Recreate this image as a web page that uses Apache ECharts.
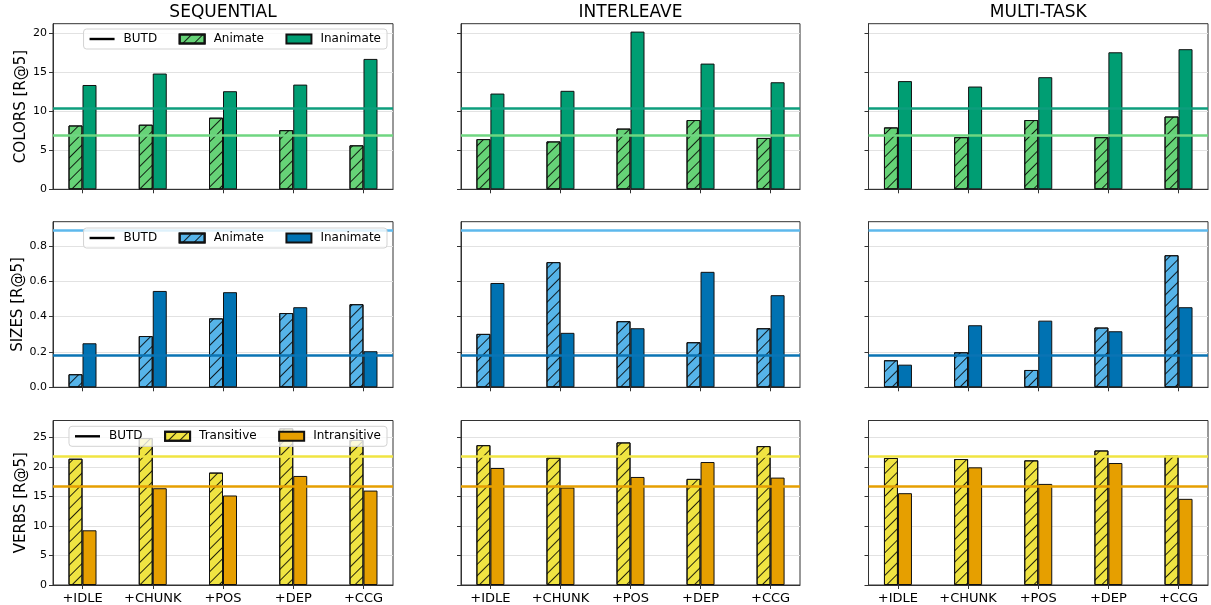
<!DOCTYPE html>
<html>
<head>
<meta charset="utf-8">
<script src="https://cdn.jsdelivr.net/npm/echarts@6/dist/echarts.min.js"></script>
<style>html,body{margin:0;padding:0;background:#fff;}#chart{width:1211px;height:605px;}</style>
</head>
<body>
<div id="chart"></div>
<script>
// ---------- data ----------
const categories = ['+IDLE', '+CHUNK', '+POS', '+DEP', '+CCG'];
const columnTitles = ['SEQUENTIAL', 'INTERLEAVE', 'MULTI-TASK'];
const rowNames = ['COLORS [R@5]', 'SIZES [R@5]', 'VERBS [R@5]'];
const legendLabels = [['Animate', 'Inanimate'], ['Animate', 'Inanimate'], ['Transitive', 'Intransitive']];

const colorsSeqAnimate = [8.2, 8.3, 9.2, 7.6, 5.65];
const colorsSeqInanimate = [13.4, 14.87, 12.6, 13.45, 16.75];
const colorsIntAnimate = [6.45, 6.15, 7.8, 8.9, 6.6];
const colorsIntInanimate = [12.3, 12.65, 20.26, 16.15, 13.75];
const colorsMtAnimate = [7.95, 6.7, 8.9, 6.7, 9.35];
const colorsMtInanimate = [13.9, 13.2, 14.4, 17.6, 18.0];

const sizesSeqAnimate = [0.074, 0.29, 0.39, 0.42, 0.47];
const sizesSeqInanimate = [0.249, 0.545, 0.538, 0.453, 0.204];
const sizesIntAnimate = [0.302, 0.708, 0.374, 0.255, 0.334];
const sizesIntInanimate = [0.59, 0.308, 0.334, 0.653, 0.521];
const sizesMtAnimate = [0.153, 0.198, 0.098, 0.338, 0.747];
const sizesMtInanimate = [0.128, 0.351, 0.377, 0.317, 0.453];

const verbsSeqTransitive = [21.4, 24.9, 19.05, 26.55, 24.6];
const verbsSeqIntransitive = [9.27, 16.4, 15.17, 18.48, 16.0];
const verbsIntTransitive = [23.7, 21.6, 24.16, 17.98, 23.54];
const verbsIntIntransitive = [19.83, 16.52, 18.31, 20.84, 18.2];
const verbsMtTransitive = [21.52, 21.35, 21.12, 22.8, 21.9];
const verbsMtIntransitive = [15.56, 19.94, 17.13, 20.67, 14.6];

const butdColors = [6.88, 10.43];   // [animate, inanimate]
const butdSizes = [0.892, 0.181];
const butdVerbs = [21.74, 16.74];   // [transitive, intransitive]

// ---------- styling ----------
const rowData = [
  [[colorsSeqAnimate, colorsSeqInanimate], [colorsIntAnimate, colorsIntInanimate], [colorsMtAnimate, colorsMtInanimate]],
  [[sizesSeqAnimate, sizesSeqInanimate], [sizesIntAnimate, sizesIntInanimate], [sizesMtAnimate, sizesMtInanimate]],
  [[verbsSeqTransitive, verbsSeqIntransitive], [verbsIntTransitive, verbsIntIntransitive], [verbsMtTransitive, verbsMtIntransitive]]
];
const rowButd = [butdColors, butdSizes, butdVerbs];
const rowColors = [['#66d377', '#009e73'], ['#56b4e9', '#0072b2'], ['#f0e442', '#e69f00']];
const lineColors = [['#6fd681', '#0d9e7d'], ['#5db8ec', '#0a74b4'], ['#f0e442', '#e69f00']];
const rowInterval = [5, 0.2, 5];
const colL = [53, 461, 868.5], colR = [393, 800, 1208];
const rowT = [23.7, 221.7, 420.5], rowB = [189.3, 387.3, 586];
const legendTop = [29, 228, 426.3];
const FONT = 'DejaVu Sans';
const FRAME = '#333';

const hatch = {
  symbol: 'rect', symbolSize: 1,
  color: 'rgba(0,0,0,0.85)',
  dashArrayX: [1, 0], dashArrayY: [1, 6.5],
  rotation: -Math.PI / 4
};

const grid = [], xAxis = [], yAxis = [], series = [], legend = [], graphic = [];

for (let r = 0; r < 3; r++) {
  const allVals = [].concat(...rowData[r].map(p => p[0].concat(p[1])), rowButd[r]);
  const yMax = Math.max(...allVals) * 1.05;
  const yTicks = [];
  for (let k = 0; k * rowInterval[r] <= yMax + 1e-9; k++) yTicks.push(+(k * rowInterval[r]).toFixed(4));
  for (let c = 0; c < 3; c++) {
    const gi = r * 3 + c;
    grid.push({
      left: colL[c], top: rowT[r], width: colR[c] - colL[c], height: rowB[r] - rowT[r],
      show: true, borderColor: FRAME, borderWidth: 1, backgroundColor: 'transparent'
    });
    xAxis.push({
      gridIndex: gi, type: 'value', min: -0.42, max: 4.42,
      splitLine: { show: false },
      axisLine: { show: true, onZero: false, lineStyle: { color: FRAME, width: 1 } },
      axisTick: { show: true, customValues: [0, 1, 2, 3, 4], length: 4, lineStyle: { color: FRAME } },
      axisLabel: {
        show: r === 2, customValues: [0, 1, 2, 3, 4],
        formatter: v => categories[Math.round(v)],
        fontSize: 13, fontFamily: FONT, color: '#000', margin: 7
      }
    });
    yAxis.push({
      gridIndex: gi, type: 'value', min: 0, max: yMax, interval: rowInterval[r],
      splitLine: { show: true, lineStyle: { color: '#e2e2e2', width: 1 } },
      axisLine: { show: true, onZero: false, lineStyle: { color: FRAME, width: 1 } },
      axisTick: { show: true, customValues: yTicks, length: 4, lineStyle: { color: FRAME } },
      axisLabel: {
        show: c === 0, customValues: yTicks,
        formatter: v => r === 1 ? v.toFixed(1) : String(Math.round(v)),
        fontSize: 11, fontFamily: FONT, color: '#000', margin: 6
      },
      name: c === 0 ? rowNames[r] : '', nameLocation: 'middle', nameGap: 24,
      nameTextStyle: { fontSize: 15, fontFamily: FONT, color: '#000' }
    });
    for (let s = 0; s < 2; s++) {
      const item = {
        color: rowColors[r][s], borderColor: '#111', borderWidth: 1
      };
      if (s === 0) item.decal = hatch;
      series.push({
        type: 'bar', name: legendLabels[r][s] + '|' + r,
        xAxisIndex: gi, yAxisIndex: gi,
        data: rowData[r][c][s].map((v, k) => [k, v]),
        barWidth: 14, barGap: '0%',
        itemStyle: item, z: 2
      });
    }
    series.push({
      type: 'line', xAxisIndex: gi, yAxisIndex: gi, data: [], z: 5, silent: true,
      markLine: {
        symbol: 'none', silent: true, animation: false, label: { show: false },
        data: [
          { yAxis: rowButd[r][0], lineStyle: { color: lineColors[r][0], width: 2.5, type: 'solid' } },
          { yAxis: rowButd[r][1], lineStyle: { color: lineColors[r][1], width: 2.5, type: 'solid' } }
        ]
      }
    });
  }
  legend.push({
    data: [
      { name: 'BUTD', icon: 'path://M0,0 M25,9 M0,3.3 L25,3.3 L25,5.7 L0,5.7 Z' },
      { name: legendLabels[r][0] + '|' + r, icon: 'rect' },
      { name: legendLabels[r][1] + '|' + r, icon: 'rect' }
    ],
    right: 824, top: legendTop[r], orient: 'horizontal',
    itemWidth: 25, itemHeight: 9, itemGap: 21.5, padding: [4, 6],
    backgroundColor: 'rgba(255,255,255,0.8)', borderColor: '#d3d3d3', borderWidth: 1, borderRadius: 3,
    textStyle: { fontSize: 12, fontFamily: FONT, color: '#000', padding: [0, 0, 0, 4] },
    formatter: n => n.split('|')[0],
    selectedMode: false, z: 10
  });
}

series.push({
  type: 'line', name: 'BUTD', xAxisIndex: 0, yAxisIndex: 0, data: [],
  symbol: 'none', itemStyle: { color: '#000', borderWidth: 0 }, lineStyle: { color: '#000', width: 2.5 }
});

for (let c = 0; c < 3; c++) {
  graphic.push({
    type: 'text', x: (colL[c] + colR[c]) / 2, y: 13,
    style: {
      text: columnTitles[c], fontSize: 17, fontFamily: FONT, fill: '#000',
      align: 'center', verticalAlign: 'middle', textAlign: 'center', textVerticalAlign: 'middle'
    }
  });
}

const chart = echarts.init(document.getElementById('chart'), null, { renderer: 'canvas' });
chart.setOption({
  animation: false,
  backgroundColor: '#fff',
  textStyle: { fontFamily: FONT },
  grid, xAxis, yAxis, series, legend, graphic
});
</script>
</body>
</html>
